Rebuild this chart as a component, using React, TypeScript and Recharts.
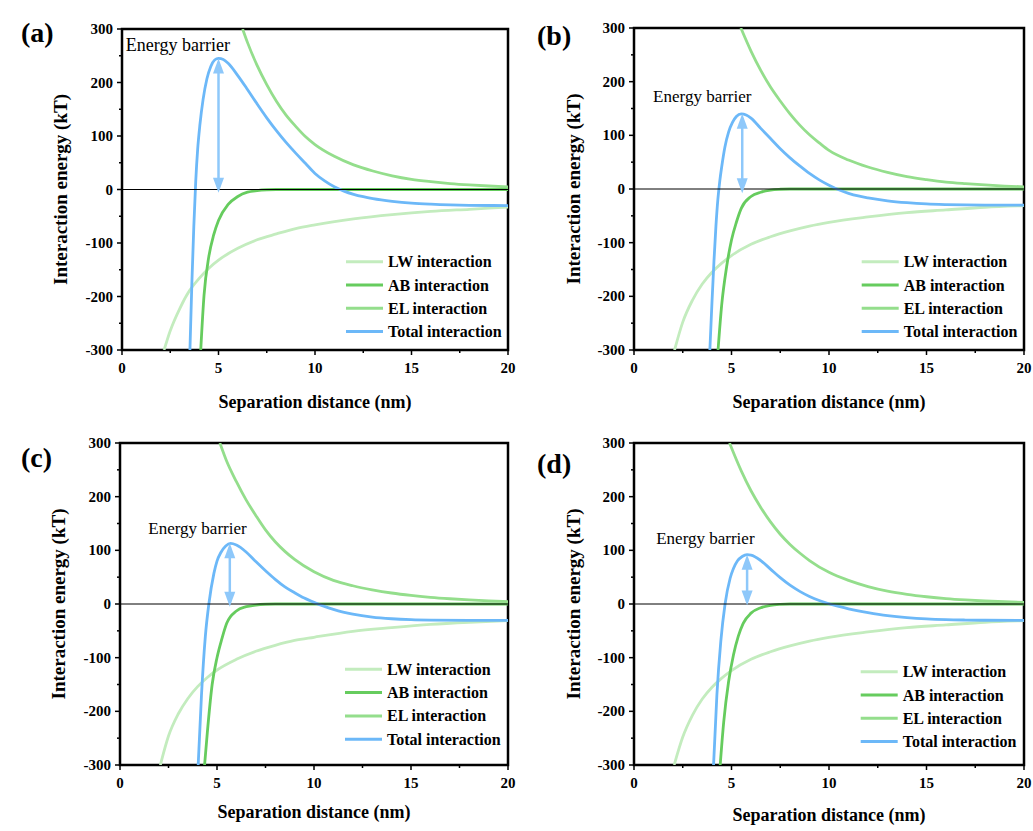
import React from 'react';
import { LineChart, Line, XAxis, YAxis, ReferenceLine, ReferenceArea, ReferenceDot, Label } from 'recharts';

type Pt = [number, number];

// panel (a)
const lwA: Pt[] = [[2.18, -300], [2.5, -264], [3, -222], [3.5, -189], [4, -166], [4.5, -147], [5, -132], [6, -110], [7, -94], [8, -83], [9, -73], [10, -66], [12, -55], [14, -47], [16, -41], [18, -37], [20, -33]];
const abA: Pt[] = [[4.08, -300], [4.25, -198], [4.5, -125], [4.75, -85], [5, -58], [5.5, -28], [6, -13], [6.5, -5], [7, -2], [7.5, -0.5], [8, 0], [20, 0]];
const elA: Pt[] = [[6.25, 300], [6.5, 275], [7, 232], [7.5, 196], [8, 165], [8.5, 139], [9, 118], [9.5, 99], [10, 84], [11, 62], [12, 46], [13, 34.6], [14, 25.6], [15, 19], [16, 14.6], [17, 11.1], [18, 8.5], [19, 6.5], [20, 5]];
const totalA: Pt[] = [[3.52, -300], [3.62, -175], [3.72, -70], [3.82, 15], [3.92, 75], [4.04, 122], [4.2, 168], [4.4, 207], [4.6, 230], [4.8, 242], [5, 245], [5.25, 243], [5.5, 236], [6, 213], [6.5, 187], [7, 160], [7.5, 134], [8, 110], [8.5, 88], [9, 68], [9.5, 49], [10, 30], [10.5, 16], [11, 5], [11.5, -3], [12, -9], [12.5, -13.5], [13, -17], [14, -22], [15, -25.5], [16, -27.5], [17, -28.8], [18, -29.5], [20, -30]];

// panel (b)
const lwB: Pt[] = [[2.08, -300], [2.5, -248], [3, -207], [3.5, -177], [4, -155], [4.5, -138], [5, -124], [6, -103], [7, -89], [8, -78], [9, -69], [10, -62], [12, -52], [14, -44], [16, -39], [18, -34], [20, -31]];
const abB: Pt[] = [[4.31, -300], [4.5, -215], [4.75, -145], [5, -95], [5.25, -62], [5.5, -36], [6, -14], [6.5, -6], [7, -2], [7.5, -0.5], [8, 0], [20, 0]];
const elB: Pt[] = [[5.48, 300], [6, 257], [6.5, 221], [7, 190], [7.5, 164], [8, 140], [8.5, 119], [9, 101], [9.5, 86], [10, 72], [11, 54], [12, 41], [13, 31], [14, 23], [15, 17.5], [16, 13], [17, 10], [18, 7.5], [19, 5.5], [20, 4]];
const totalB: Pt[] = [[3.89, -300], [4, -210], [4.1, -135], [4.2, -70], [4.3, -20], [4.4, 15], [4.5, 42], [4.66, 78], [4.85, 106], [5.05, 124], [5.25, 135], [5.5, 140], [5.75, 138], [6, 132], [6.5, 113], [7, 94], [7.5, 75], [8, 58], [8.5, 43], [9, 29], [9.5, 17], [10, 7], [10.5, -1.5], [11, -8], [11.5, -13], [12, -16.5], [13, -22], [14, -25.5], [15, -27.8], [16, -29], [17, -29.7], [18, -30], [20, -30]];

// panel (c)
const lwC: Pt[] = [[2.08, -300], [2.5, -246], [3, -205], [3.5, -176], [4, -154], [4.5, -137], [5, -123], [6, -103], [7, -88], [8, -77], [9, -68], [10, -62], [12, -51], [14, -44], [16, -38], [18, -34], [20, -31]];
const abC: Pt[] = [[4.36, -300], [4.5, -240], [4.75, -150], [5, -100], [5.25, -65], [5.5, -36], [6, -13], [6.5, -5], [7, -2], [7.5, -0.5], [8, 0], [20, 0]];
const elC: Pt[] = [[5.15, 300], [5.5, 266], [6, 228], [6.5, 194], [7, 165], [7.5, 138], [8, 116], [8.5, 98], [9, 83], [10, 60], [11, 44], [12, 34], [13, 26.5], [14, 20.5], [15, 16], [16, 12.5], [17, 9.8], [18, 7.6], [19, 5.9], [20, 4.6]];
const totalC: Pt[] = [[4.03, -300], [4.2, -170], [4.4, -60], [4.58, 0], [4.84, 57], [5, 80], [5.2, 96], [5.45, 108], [5.7, 113], [6, 110], [6.5, 97], [7, 79], [7.5, 62], [8, 46], [8.5, 32], [9, 21], [9.5, 11], [10, 3], [10.5, -4], [11, -10], [11.5, -15], [12, -19], [13, -24.5], [14, -27.5], [15, -29.2], [16, -30], [18, -30.5], [20, -30.5]];

// panel (d)
const lwD: Pt[] = [[2.06, -300], [2.5, -248], [3, -207], [3.5, -177], [4, -155], [4.5, -138], [5, -124], [6, -103], [7, -89], [8, -78], [9, -69], [10, -62], [12, -52], [14, -44], [16, -39], [18, -34], [20, -31]];
const abD: Pt[] = [[4.42, -300], [4.6, -220], [4.85, -145], [5.1, -95], [5.35, -60], [5.6, -36], [6, -17], [6.5, -7], [7, -2.5], [7.5, -0.7], [8, 0], [20, 0]];
const elD: Pt[] = [[4.9, 300], [5.5, 248], [6, 211], [6.5, 180], [7, 153], [7.5, 130], [8, 111], [8.5, 95], [9, 81], [10, 59], [11, 44], [12, 32.5], [13, 24], [14, 18], [15, 13.5], [16, 10], [17, 7.5], [18, 5.6], [19, 4.2], [20, 3.2]];
const totalD: Pt[] = [[4.08, -300], [4.25, -170], [4.45, -70], [4.67, 0], [4.93, 48], [5.1, 66], [5.3, 80], [5.55, 88.5], [5.8, 92], [6, 91.2], [6.5, 81], [7, 65], [7.5, 49], [8, 35], [8.5, 23.5], [9, 14], [9.5, 6.5], [10, 0.5], [10.5, -4.5], [11, -9], [11.5, -12.8], [12, -16], [13, -21.5], [14, -25.3], [15, -27.8], [16, -29.2], [17, -29.9], [18, -30.3], [20, -30.5]];

const xTicks = [0, 2.5, 5, 7.5, 10, 12.5, 15, 17.5, 20];
const yTicks = [-300, -250, -200, -150, -100, -50, 0, 50, 100, 150, 200, 250, 300];
const seriesNames = ['LW interaction', 'AB interaction', 'EL interaction', 'Total interaction'];
const seriesColors = ['#c3ecbe', '#66cc5e', '#94de8c', '#6cb8f8'];
const arrowColor = '#8ec8fa';

const FONT = "'Liberation Serif', 'Times New Roman', serif";

const panels = [
  {
    label: '(a)', labelPos: [21, 41.5], left: 0, top: 0, width: 516, height: 415, mTop: 29, yW: 122, xH: 65,
    xTitleDy: 52, yTitleX: 60, series: [lwA, abA, elA, totalA],
    arrow: { x: 5, top: 245, bottom: -6 }, barrier: { x: 0.2, y: 258, size: 18 }, legend: [346, 261.7],
  },
  {
    label: '(b)', labelPos: [537, 45], left: 516, top: 0, width: 516, height: 415, mTop: 28, yW: 118, xH: 65,
    xTitleDy: 52, yTitleX: 57, series: [lwB, abB, elB, totalB],
    arrow: { x: 5.55, top: 140, bottom: -8 }, barrier: { x: 0.98, y: 162, size: 17 }, legend: [861.7, 261.7],
  },
  {
    label: '(c)', labelPos: [21, 466.5], left: 0, top: 415, width: 516, height: 416, mTop: 28, yW: 120, xH: 66,
    xTitleDy: 47, yTitleX: 58, series: [lwC, abC, elC, totalC],
    arrow: { x: 5.66, top: 113, bottom: -5 }, barrier: { x: 1.46, y: 130, size: 17 }, legend: [345, 669.3],
  },
  {
    label: '(d)', labelPos: [537, 473], left: 516, top: 415, width: 516, height: 416, mTop: 28, yW: 118, xH: 66,
    xTitleDy: 50, yTitleX: 57, series: [lwD, abD, elD, totalD],
    arrow: { x: 5.8, top: 92, bottom: -3 }, barrier: { x: 1.14, y: 112, size: 17 }, legend: [860.7, 671.7],
  },
];

const toRows = (pts: Pt[]) => pts.map(([x, y]) => ({ x, y }));

const YTick = (props: any) => {
  const { x, y, payload } = props;
  const v = payload.value;
  const major = v % 100 === 0;
  return (
    <g>
      <line x1={x} x2={x - (major ? 5 : 3)} y1={y} y2={y} stroke="#000" strokeWidth={1.5} />
      {major && (
        <text x={x - 9} y={y} textAnchor="end" dominantBaseline="central" fontFamily={FONT} fontWeight="bold" fontSize={15} fill="#000">
          {v}
        </text>
      )}
    </g>
  );
};

const XTick = (props: any) => {
  const { x, y, payload } = props;
  const v = payload.value;
  const major = v % 5 === 0;
  return (
    <g>
      <line x1={x} x2={x} y1={y} y2={y + (major ? 5 : 3)} stroke="#000" strokeWidth={1.5} />
      {major && (
        <text x={x} y={y + 18} textAnchor="middle" dominantBaseline="central" fontFamily={FONT} fontWeight="bold" fontSize={15} fill="#000">
          {v}
        </text>
      )}
    </g>
  );
};

// double headed arrow marking the barrier height
const arrowShape = (props: any) => {
  const { x1, y1, x2, y2 } = props;
  const top = Math.min(y1, y2);
  const bottom = Math.max(y1, y2);
  const len = 15;
  const half = 5.5;
  return (
    <g>
      <line x1={x1} x2={x2} y1={top + 4} y2={bottom - 4} stroke={arrowColor} strokeWidth={2.5} />
      <polygon points={`${x1},${top} ${x1 - half},${top + len} ${x1 + half},${top + len}`} fill={arrowColor} />
      <polygon points={`${x1},${bottom} ${x1 - half},${bottom - len} ${x1 + half},${bottom - len}`} fill={arrowColor} />
    </g>
  );
};

const Panel = ({ p }: { p: (typeof panels)[number] }) => (
  <div style={{ position: 'absolute', left: p.left, top: p.top }}>
    <LineChart width={p.width} height={p.height} margin={{ top: p.mTop, right: 8, bottom: 0, left: 0 }}>
      <XAxis
        type="number"
        dataKey="x"
        domain={[0, 20]}
        ticks={xTicks}
        interval={0}
        allowDataOverflow
        height={p.xH}
        tickSize={0}
        tickMargin={0}
        tickLine={false}
        axisLine={false}
        tick={XTick}
      >
        <Label
          content={(lp: any) => {
            const vb = lp.viewBox;
            return (
              <text x={vb.x + vb.width / 2} y={vb.y + p.xTitleDy} textAnchor="middle" dominantBaseline="central" fontFamily={FONT} fontWeight="bold" fontSize={18} fill="#000">
                Separation distance (nm)
              </text>
            );
          }}
        />
      </XAxis>
      <YAxis
        type="number"
        domain={[-300, 300]}
        ticks={yTicks}
        interval={0}
        allowDataOverflow
        width={p.yW}
        tickSize={0}
        tickMargin={0}
        tickLine={false}
        axisLine={false}
        tick={YTick}
      >
        <Label
          content={(lp: any) => {
            const vb = lp.viewBox;
            const cy = vb.y + vb.height / 2;
            return (
              <text x={p.yTitleX} y={cy} transform={`rotate(-90, ${p.yTitleX}, ${cy})`} textAnchor="middle" dominantBaseline="central" fontFamily={FONT} fontWeight="bold" fontSize={19} fill="#000">
                Interaction energy (kT)
              </text>
            );
          }}
        />
      </YAxis>
      {p.series.map((s, i) => (
        <Line
          key={seriesNames[i]}
          data={toRows(s)}
          dataKey="y"
          name={seriesNames[i]}
          type="monotone"
          stroke={seriesColors[i]}
          strokeWidth={2.8}
          dot={false}
          activeDot={false}
          isAnimationActive={false}
        />
      ))}
      <ReferenceLine y={0} stroke="#000" strokeWidth={1} />
      <ReferenceLine
        segment={[{ x: p.arrow.x, y: p.arrow.top }, { x: p.arrow.x, y: p.arrow.bottom }]}
        shape={arrowShape}
        ifOverflow="visible"
      />
      <ReferenceDot
        x={p.barrier.x}
        y={p.barrier.y}
        r={0}
        ifOverflow="visible"
        shape={(dp: any) => (
          <text x={dp.cx} y={dp.cy} fontFamily={FONT} fontSize={p.barrier.size} fill="#000">
            Energy barrier
          </text>
        )}
      />
      <ReferenceArea x1={0} x2={20} y1={-300} y2={300} fill="none" stroke="#000" strokeWidth={2.5} ifOverflow="visible" />
    </LineChart>
  </div>
);

export default function App() {
  return (
    <div style={{ position: 'absolute', left: 0, top: 0, width: 1033, height: 831, background: '#fff', overflow: 'hidden' }}>
      {panels.map((p) => (
        <Panel key={p.label} p={p} />
      ))}
      <svg width={1033} height={831} style={{ position: 'absolute', left: 0, top: 0, pointerEvents: 'none' }}>
        {panels.map((p) => (
          <g key={p.label}>
            <text x={p.labelPos[0]} y={p.labelPos[1]} fontFamily={FONT} fontWeight="bold" fontSize={28} fill="#000">
              {p.label}
            </text>
            {seriesNames.map((name, i) => {
              const lx = p.legend[0];
              const ly = p.legend[1] + i * 23.3;
              return (
                <g key={name}>
                  <line x1={lx} x2={lx + 37} y1={ly} y2={ly} stroke={seriesColors[i]} strokeWidth={3} />
                  <text x={lx + 42} y={ly} dominantBaseline="central" fontFamily={FONT} fontWeight="bold" fontSize={16} fill="#000">
                    {name}
                  </text>
                </g>
              );
            })}
          </g>
        ))}
      </svg>
    </div>
  );
}
